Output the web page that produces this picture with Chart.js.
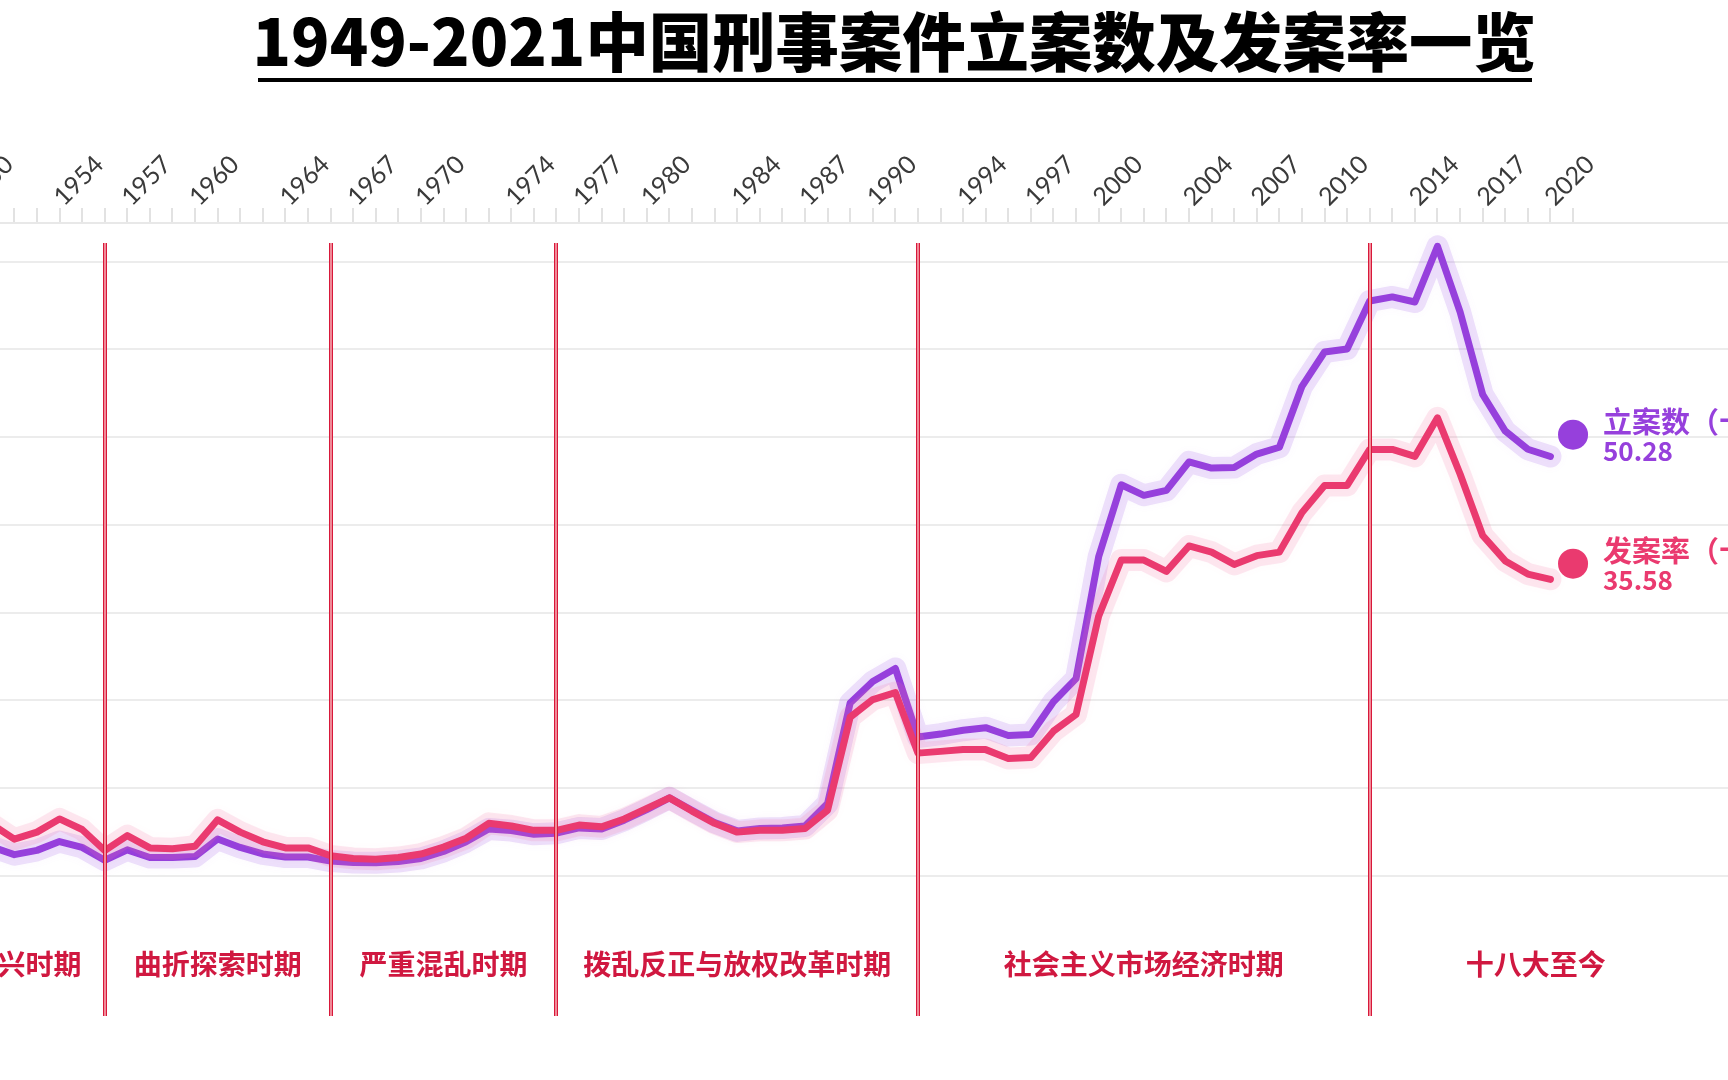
<!DOCTYPE html>
<html>
<head>
<meta charset="utf-8">
<title>1949-2021中国刑事案件立案数及发案率一览</title>
<script src="https://cdn.jsdelivr.net/npm/chart.js@4.4.1/dist/chart.umd.min.js"></script>
<style>
  html, body { margin: 0; padding: 0; background: #fff; }
  body { width: 1728px; height: 1080px; overflow: hidden; position: relative; }
  .title {
    position: absolute; left: 236px; width: 1316px; top: 2px;
    text-align: center; white-space: nowrap;
    font-family: "Noto Sans CJK SC", sans-serif; font-weight: 900;
    font-size: 64px; line-height: 72px; color: #000;
  }
  .title span { display: inline-block; transform: scaleX(0.99); transform-origin: center; }
  .underline { position: absolute; left: 258px; width: 1274px; top: 78px; height: 4px; background: #000; }
  #wrap { position: absolute; left: -200px; top: 100px; width: 1928px; height: 980px; }
</style>
</head>
<body>
<div class="title"><span>1949-2021中国刑事案件立案数及发案率一览</span></div>
<div class="underline"></div>
<div id="wrap"><canvas id="chart" width="1928" height="980"></canvas></div>
<script>
// years on the x axis
const years = [];
for (let y = 1949; y <= 2021; y++) years.push(y);

// 立案数（十万件）
const caseCounts = [
  null, 5.13, 3.32, 2.43, 2.92, 3.92, 3.26, 1.80, 2.98, 2.11,   // 1949-1958
  2.10, 2.22, 4.21, 3.25, 2.51, 2.16, 2.16, 1.70, 1.55, 1.50,   // 1959-1968
  1.65, 2.00, 2.80, 3.90, 5.35, 5.17, 4.75, 4.88, 5.48, 5.36,   // 1969-1978
  6.36, 7.57, 8.90, 7.48, 6.10, 5.14, 5.42, 5.47, 5.70, 8.27,   // 1979-1988
  19.72, 22.17, 23.65, 15.83, 16.17, 16.61, 16.90, 16.01, 16.13, 19.86, // 1989-1998
  22.49, 36.37, 44.58, 43.37, 43.94, 47.18, 46.48, 46.53, 48.07, 48.85, // 1999-2008
  55.79, 59.70, 60.05, 65.51, 65.98, 65.40, 71.74, 64.27, 54.86, 50.69, // 2009-2018
  48.62, 47.80, 50.28                                                    // 2019-2021
];

// 发案率
const caseRates = [
  null, 9.3, 5.9, 4.2, 5.0, 6.5, 5.3, 2.9, 4.6, 3.2,
  3.1, 3.4, 6.4, 5.0, 3.9, 3.2, 3.2, 2.3, 2.0, 1.9,
  2.1, 2.5, 3.3, 4.3, 6.0, 5.7, 5.2, 5.2, 5.8, 5.6,
  6.5, 7.7, 8.9, 7.4, 6.0, 5.0, 5.2, 5.2, 5.4, 7.5,
  18.1, 20.1, 20.9, 14.0, 14.2, 14.4, 14.4, 13.4, 13.5, 16.5,
  18.4, 29.6, 36.0, 36.0, 34.7, 37.6, 36.9, 35.5, 36.5, 36.9,
  41.4, 44.5, 44.5, 48.6, 48.6, 47.8, 52.2, 45.8, 38.8, 35.9,
  34.4, 33.8, 35.58
];

const tickYears = [1950, 1954, 1957, 1960, 1964, 1967, 1970, 1974, 1977, 1980, 1984,
  1987, 1990, 1994, 1997, 2000, 2004, 2007, 2010, 2014, 2017, 2020];

const seriesNames = ['立案数（十万件）', '发案率（十万分之一）'];

const periodNames = ['百废待兴时期', '曲折探索时期', '严重混乱时期', '拨乱反正与放权改革时期',
  '社会主义市场经济时期', '十八大至今'];
const periodBounds = [1946.5, 1956, 1966, 1976, 1992, 2012, 2026.7];

const purple = '#9640dc';
const rose = '#ea3a6f';

function toPoints(values) {
  return years.map((y, i) => ({ x: y, y: values[i] }));
}

// the last point is shown as a dot only, the line stops one year before
function lastSegmentHidden(ctx) {
  return ctx.p1DataIndex === years.length - 1 ? 'rgba(0,0,0,0)' : undefined;
}

function dotRadius(ctx) {
  return ctx.dataIndex === years.length - 1 ? 15 : 0;
}

// soft halo under each line
const glowPlugin = {
  id: 'glow',
  beforeDatasetDraw(chart, args) {
    const line = args.meta.dataset;
    const ctx = chart.ctx;
    const glow = args.index === 0 ? 'rgba(170, 110, 235, 0.2)' : 'rgba(240, 110, 160, 0.16)';
    ctx.save();
    ctx.lineJoin = 'round';
    ctx.lineCap = 'round';
    ctx.strokeStyle = glow;
    ctx.shadowColor = glow;
    ctx.shadowBlur = 10;
    ctx.lineWidth = 22;
    ctx.beginPath();
    line.path(ctx, 1, years.length - 2);
    ctx.stroke();
    ctx.restore();
  }
};

const overlayPlugin = {
  id: 'overlay',
  afterDatasetsDraw(chart) {
    const ctx = chart.ctx;
    const xs = chart.scales.x;

    // period boundaries
    ctx.save();
    for (let i = 1; i < periodBounds.length - 1; i++) {
      const x = Math.round(xs.getPixelForValue(periodBounds[i]));
      ctx.fillStyle = '#f08a98';
      ctx.fillRect(x - 2, 143, 4, 773);
      ctx.fillStyle = '#d8183a';
      ctx.fillRect(x - 2, 143, 1, 773);
      ctx.fillRect(x + 1, 143, 1, 773);
    }
    ctx.font = '700 28px "Noto Sans CJK SC"';
    ctx.fillStyle = '#d01840';
    ctx.textAlign = 'center';
    ctx.textBaseline = 'middle';
    for (let i = 0; i < periodNames.length; i++) {
      const mid = (xs.getPixelForValue(periodBounds[i]) + xs.getPixelForValue(periodBounds[i + 1])) / 2;
      ctx.fillText(periodNames[i], mid, 864);
    }

    // end labels
    ctx.textAlign = 'left';
    chart.data.datasets.forEach((ds, i) => {
      const pt = chart.getDatasetMeta(i).data[years.length - 1];
      ctx.fillStyle = ds.borderColor;
      ctx.font = 'bold 29px "Noto Sans CJK SC"';
      ctx.fillText(seriesNames[i], pt.x + 30, pt.y - 13);
      ctx.font = 'bold 26px "Noto Sans CJK SC"';
      ctx.fillText(ds.data[years.length - 1].y.toFixed(2), pt.x + 30, pt.y + 16);
    });
    ctx.restore();
  }
};

const chart = new Chart(document.getElementById('chart'), {
  type: 'line',
  data: {
    datasets: [
      {
        label: seriesNames[0],
        data: toPoints(caseCounts),
        borderColor: purple,
        backgroundColor: purple,
        borderWidth: 7,
        pointRadius: dotRadius,
        pointBorderWidth: 0,
        pointBackgroundColor: purple,
        segment: { borderColor: lastSegmentHidden },
        order: 1
      },
      {
        label: seriesNames[1],
        data: toPoints(caseRates),
        borderColor: rose,
        backgroundColor: rose,
        borderWidth: 7,
        pointRadius: dotRadius,
        pointBorderWidth: 0,
        pointBackgroundColor: rose,
        segment: { borderColor: lastSegmentHidden },
        order: 0
      }
    ]
  },
  options: {
    responsive: false,
    animation: false,
    devicePixelRatio: 1,
    layout: { autoPadding: false, padding: { left: 0, right: 0, top: 0, bottom: 204 } },
    plugins: { legend: { display: false }, tooltip: { enabled: false } },
    elements: { line: { borderJoinStyle: 'round', borderCapStyle: 'round' } },
    scales: {
      x: {
        type: 'linear',
        position: 'top',
        min: 1942.512,
        max: 2027.86,
        afterBuildTicks(scale) {
          scale.ticks = years.map(y => ({ value: y }));
        },
        afterFit(scale) {
          scale.height = 123;
        },
        grid: { drawOnChartArea: false, drawTicks: true, tickLength: 15, color: '#e2e2e2', lineWidth: 2 },
        border: { display: true, color: '#e8e8e8', width: 2 },
        ticks: {
          autoSkip: false,
          minRotation: 45,
          maxRotation: 45,
          padding: -4,
          labelOffset: 20,
          color: '#3a3a3a',
          font: { family: 'Lato', size: 25 },
          callback(value) {
            return tickYears.includes(value) ? String(value) : '';
          }
        }
      },
      y: {
        min: 0,
        max: 74.4,
        afterFit(scale) {
          scale.width = 0;
        },
        grid: { color: '#ececec', lineWidth: 2, drawTicks: false },
        border: { display: false },
        ticks: { display: false, stepSize: 10, includeBounds: false }
      }
    }
  },
  plugins: [glowPlugin, overlayPlugin]
});
</script>
</body>
</html>
